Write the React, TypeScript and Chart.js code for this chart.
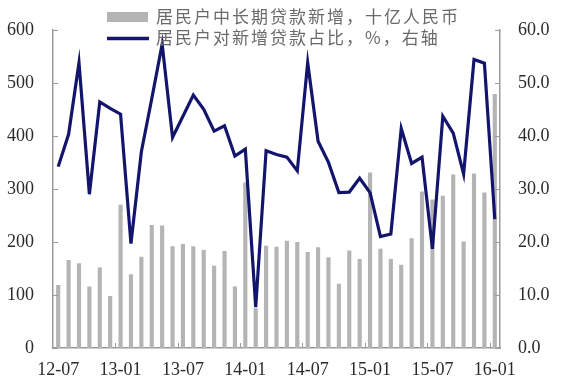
import React, { useEffect, useRef } from "react";
import { Chart, registerables } from "chart.js";

Chart.register(...registerables);

const months: string[] = [
  "12-07", "12-08", "12-09", "12-10", "12-11", "12-12",
  "13-01", "13-02", "13-03", "13-04", "13-05", "13-06",
  "13-07", "13-08", "13-09", "13-10", "13-11", "13-12",
  "14-01", "14-02", "14-03", "14-04", "14-05", "14-06",
  "14-07", "14-08", "14-09", "14-10", "14-11", "14-12",
  "15-01", "15-02", "15-03", "15-04", "15-05", "15-06",
  "15-07", "15-08", "15-09", "15-10", "15-11", "15-12",
  "16-01",
];

// 居民户中长期贷款新增，十亿人民币 (left axis)
const loanNew: number[] = [
  119, 166, 160, 116, 152, 98,
  270, 139, 172, 232, 231, 192,
  196, 192, 185, 155, 183, 116,
  312, 75, 193, 191, 202, 200,
  181, 190, 171, 121, 184, 168,
  331, 187, 168, 157, 207, 295,
  280, 287, 327, 201, 329, 293,
  479,
];

// 居民户对新增贷款占比，% (right axis)
const loanShare: number[] = [
  34.2, 40.3, 53.8, 29.0, 46.4, 45.2,
  44.1, 19.7, 37.0, 47.0, 57.3, 39.7,
  43.7, 47.7, 45.0, 40.9, 41.9, 36.2,
  37.5, 7.7, 37.2, 36.5, 36.0, 33.4,
  53.8, 39.0, 35.0, 29.3, 29.4, 32.0,
  29.3, 21.0, 21.5, 41.4, 34.8, 36.0,
  18.7, 43.7, 40.5, 32.8, 54.4, 53.7,
  24.3,
];

const labelEvery = 6;
const leftMax = 600;
const leftStep = 100;
const rightMax = 60;
const rightStep = 10;

const barLabel = "居民户中长期贷款新增，十亿人民币";
const lineLabel = "居民户对新增贷款占比，%，右轴";

const BAR_COLOR = "#b4b4b4";
const LINE_COLOR = "#13146c";
const AXIS_COLOR = "#9a9a9a";
const TEXT_COLOR = "#2a2a2a";

const decorPlugin = {
  id: "decor",
  afterDraw(chart: any) {
    const ctx = chart.ctx as CanvasRenderingContext2D;
    const area = chart.chartArea;
    const x = chart.scales.x;
    const yL = chart.scales.y;
    const yR = chart.scales.y1;
    ctx.save();
    ctx.strokeStyle = AXIS_COLOR;
    ctx.lineWidth = 1;
    // inward tick marks on y axes
    yL.ticks.forEach((t: any) => {
      const py = Math.round(yL.getPixelForValue(t.value)) + 0.5;
      ctx.beginPath();
      ctx.moveTo(area.left, py);
      ctx.lineTo(area.left + 5, py);
      ctx.stroke();
    });
    yR.ticks.forEach((t: any) => {
      const py = Math.round(yR.getPixelForValue(t.value)) + 0.5;
      ctx.beginPath();
      ctx.moveTo(area.right, py);
      ctx.lineTo(area.right - 5, py);
      ctx.stroke();
    });
    // x tick marks at category boundaries before labelled months
    for (let i = labelEvery; i < months.length; i += labelEvery) {
      const px = Math.round((x.getPixelForValue(i - 1) + x.getPixelForValue(i)) / 2) + 0.5;
      ctx.beginPath();
      ctx.moveTo(px, area.bottom);
      ctx.lineTo(px, area.bottom - 5);
      ctx.stroke();
    }
    // legend
    ctx.fillStyle = BAR_COLOR;
    ctx.fillRect(107, 12, 41, 10);
    ctx.strokeStyle = LINE_COLOR;
    ctx.lineWidth = 3.5;
    ctx.beginPath();
    ctx.moveTo(107, 38.5);
    ctx.lineTo(149, 38.5);
    ctx.stroke();
    ctx.font = '17px "Noto Sans CJK SC"';
    (ctx as any).letterSpacing = "2px";
    ctx.fillStyle = "#6a6a6a";
    ctx.textBaseline = "middle";
    ctx.textAlign = "left";
    ctx.fillText(barLabel, 156, 17);
    ctx.fillText(lineLabel, 156, 38);
    ctx.restore();
  },
};

export default function App() {
  const canvasRef = useRef<HTMLCanvasElement | null>(null);

  useEffect(() => {
    if (!canvasRef.current) return;
    const tickFont = { family: '"Liberation Serif", "Times New Roman", serif', size: 18 };
    const chart = new Chart(canvasRef.current, {
      type: "bar",
      data: {
        labels: months,
        datasets: [
          {
            type: "line",
            label: lineLabel,
            data: loanShare,
            yAxisID: "y1",
            borderColor: LINE_COLOR,
            backgroundColor: LINE_COLOR,
            borderWidth: 3.2,
            pointRadius: 0,
            tension: 0,
            order: 0,
          } as any,
          {
            type: "bar",
            label: barLabel,
            data: loanNew,
            yAxisID: "y",
            backgroundColor: BAR_COLOR,
            borderWidth: 0,
            barPercentage: 0.4,
            categoryPercentage: 1,
            order: 1,
          },
        ],
      },
      options: {
        animation: false,
        responsive: true,
        maintainAspectRatio: false,
        layout: { padding: { top: 28, left: 0, right: 0, bottom: 0 } },
        plugins: {
          legend: { display: false },
          tooltip: { enabled: false },
        },
        scales: {
          x: {
            offset: true,
            grid: { display: false, drawTicks: false },
            border: { display: true, color: AXIS_COLOR, width: 1.5 },
            ticks: {
              autoSkip: false,
              maxRotation: 0,
              minRotation: 0,
              padding: 11,
              color: TEXT_COLOR,
              font: tickFont,
              callback: (_v: any, i: number) => (i % labelEvery === 0 ? months[i] : ""),
            },
            afterFit: (s: any) => {
              s.height = 38;
            },
          },
          y: {
            position: "left",
            min: 0,
            max: leftMax,
            grid: { display: false, drawTicks: false },
            border: { display: true, color: AXIS_COLOR, width: 1.5 },
            ticks: {
              stepSize: leftStep,
              padding: 19,
              color: TEXT_COLOR,
              font: tickFont,
            },
            afterFit: (s: any) => {
              s.width = 53;
            },
          },
          y1: {
            position: "right",
            min: 0,
            max: rightMax,
            grid: { display: false, drawTicks: false },
            border: { display: true, color: AXIS_COLOR, width: 1.5 },
            ticks: {
              stepSize: rightStep,
              padding: 18,
              color: TEXT_COLOR,
              font: tickFont,
              callback: (v: any) => Number(v).toFixed(1),
            },
            afterFit: (s: any) => {
              s.width = 63;
            },
          },
        },
      },
      plugins: [decorPlugin],
    });
    return () => chart.destroy();
  }, []);

  return (
    <div style={{ position: "fixed", left: 0, top: 0, width: 563, height: 386, background: "#fff" }}>
      <canvas ref={canvasRef} />
    </div>
  );
}
